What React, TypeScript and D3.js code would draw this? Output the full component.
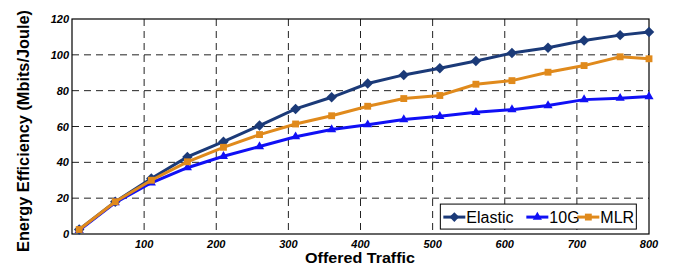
import React, { useEffect, useRef } from 'react';
import * as d3 from 'd3';

const traffic = [10, 60, 110, 160, 210, 260, 310, 360, 410, 460, 510, 560, 610, 660, 710, 760, 800];
const elastic = [2.5, 18, 31, 43, 51.5, 60.5, 69.8, 76.3, 84, 88.8, 92.5, 96.6, 101, 104, 108, 111, 112.8];
const tenG = [2, 17.5, 28.6, 37, 43.4, 48.8, 54.3, 58.3, 61, 63.9, 65.7, 67.9, 69.4, 71.7, 75, 75.8, 76.7];
const mlr = [2.5, 18, 30, 40.3, 48.4, 55.5, 61.4, 66, 71.3, 75.6, 77.3, 83.6, 85.6, 90.3, 94, 98.9, 97.8];
const xTicks = [100, 200, 300, 400, 500, 600, 700, 800];
const yTicks = [0, 20, 40, 60, 80, 100, 120];

const series = [
    { name: 'Elastic', values: elastic, color: '#1b3a78', symbol: d3.symbolDiamond2 },
    { name: '10G', values: tenG, color: '#1010f5', symbol: d3.symbolTriangle2 },
    { name: 'MLR', values: mlr, color: '#e08a1c', symbol: d3.symbolSquare2 },
];

const App = () => {
    const svgRef = useRef(null);

    useEffect(() => {
        const W = 674, H = 269;
        const margin = { top: 19, right: 25, bottom: 35, left: 72 };
        const width = W - margin.left - margin.right;
        const height = H - margin.top - margin.bottom;

        const svg = d3.select(svgRef.current);
        svg.selectAll('*').remove();
        svg.attr('width', W).attr('height', H);

        const g = svg.append('g').attr('transform', `translate(${margin.left},${margin.top})`);

        const x = d3.scaleLinear().domain([0, 800]).range([0, width]);
        const y = d3.scaleLinear().domain([0, 120]).range([height, 0]);

        // grid
        g.selectAll('.vgrid')
            .data(xTicks.filter(t => t < 800))
            .enter().append('line')
            .attr('x1', d => x(d)).attr('x2', d => x(d))
            .attr('y1', 0).attr('y2', height)
            .attr('stroke', '#222').attr('stroke-width', 1)
            .attr('stroke-dasharray', '7,5');
        g.selectAll('.hgrid')
            .data(yTicks.filter(t => t > 0 && t < 120))
            .enter().append('line')
            .attr('x1', 0).attr('x2', width)
            .attr('y1', d => y(d)).attr('y2', d => y(d))
            .attr('stroke', '#222').attr('stroke-width', 1)
            .attr('stroke-dasharray', '7,5');

        g.append('rect')
            .attr('width', width).attr('height', height)
            .attr('fill', 'none').attr('stroke', '#000').attr('stroke-width', 1.2);

        // tick labels
        g.selectAll('.xt')
            .data(xTicks)
            .enter().append('text')
            .attr('x', d => x(d)).attr('y', height + 14)
            .attr('text-anchor', 'middle')
            .attr('font-family', 'Liberation Sans, Arial, sans-serif')
            .attr('font-weight', 'bold').attr('font-style', 'italic')
            .attr('font-size', 11)
            .text(d => d);
        g.selectAll('.yt')
            .data(yTicks)
            .enter().append('text')
            .attr('x', -3).attr('y', d => y(d) + 4)
            .attr('text-anchor', 'end')
            .attr('font-family', 'Liberation Sans, Arial, sans-serif')
            .attr('font-weight', 'bold').attr('font-style', 'italic')
            .attr('font-size', 11)
            .text(d => d);

        // axis titles
        svg.append('text')
            .attr('x', 360).attr('y', 263)
            .attr('text-anchor', 'middle')
            .attr('font-family', 'Liberation Sans, Arial, sans-serif')
            .attr('font-weight', 'bold').attr('font-size', 15.5)
            .attr('textLength', 110).attr('lengthAdjust', 'spacingAndGlyphs')
            .text('Offered Traffic');
        svg.append('text')
            .attr('transform', `translate(29,131) rotate(-90)`)
            .attr('text-anchor', 'middle')
            .attr('font-family', 'Liberation Sans, Arial, sans-serif')
            .attr('font-weight', 'bold').attr('font-size', 17)
            .attr('textLength', 242).attr('lengthAdjust', 'spacingAndGlyphs')
            .text('Energy Efficiency (Mbits/Joule)');

        const line = d3.line()
            .x((d, i) => x(traffic[i]))
            .y(d => y(d));

        series.forEach(s => {
            g.append('path')
                .datum(s.values)
                .attr('d', line)
                .attr('fill', 'none')
                .attr('stroke', s.color)
                .attr('stroke-width', 3);
            g.selectAll(null)
                .data(s.values)
                .enter().append('path')
                .attr('transform', (d, i) => `translate(${x(traffic[i])},${y(d)})`)
                .attr('d', d3.symbol().type(s.symbol).size(s.name === 'Elastic' ? 70 : 60))
                .attr('fill', s.color);
        });

        // legend
        const lg = g.append('g').attr('transform', `translate(${x(510) + 0.5},${y(16.7)})`);
        lg.append('rect')
            .attr('width', 196).attr('height', 25)
            .attr('fill', '#fff').attr('stroke', '#000').attr('stroke-width', 1);
        const items = [
            { s: series[0], off: 3, tx: 26 },
            { s: series[1], off: 86, tx: 109 },
            { s: series[2], off: 137, tx: 160 },
        ];
        items.forEach(({ s, off, tx }) => {
            lg.append('line')
                .attr('x1', off).attr('x2', off + 22)
                .attr('y1', 13).attr('y2', 13)
                .attr('stroke', s.color).attr('stroke-width', 3);
            lg.append('path')
                .attr('transform', `translate(${off + 11},13)`)
                .attr('d', d3.symbol().type(s.symbol).size(60))
                .attr('fill', s.color);
            lg.append('text')
                .attr('x', tx).attr('y', 19)
                .attr('font-family', 'Liberation Sans, Arial, sans-serif')
                .attr('font-size', 16)
                .text(s.name);
        });
    }, []);

    return <svg ref={svgRef} style={{ position: 'absolute', left: 0, top: 0 }}></svg>;
};

export default App;
